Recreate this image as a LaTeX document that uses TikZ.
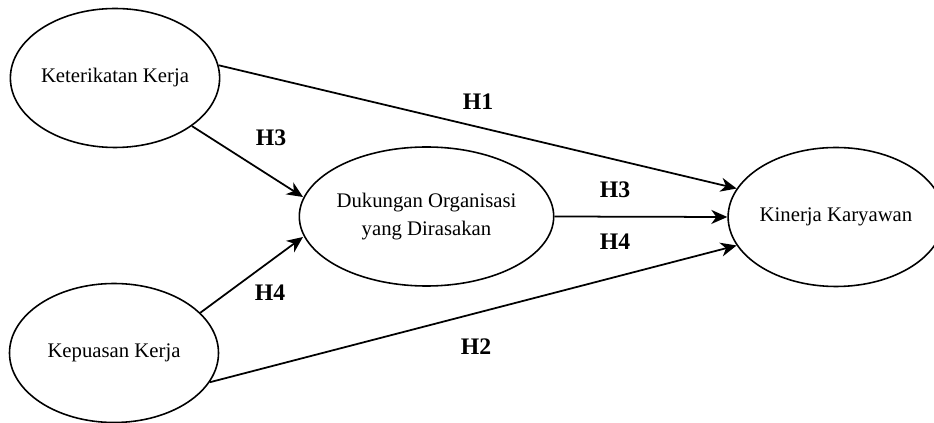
\documentclass[tikz,border=0pt]{standalone}
\usepackage{fontspec}
\setmainfont{Liberation Serif}
\usetikzlibrary{arrows.meta,shapes.geometric}
\begin{document}
\begin{tikzpicture}[
	var/.style={ellipse, draw, line width=0.9pt, inner sep=0pt, minimum width=4.18cm, minimum height=2.78cm, align=center, font=\fontsize{11.8}{15.9}\selectfont},
	hyp/.style={font=\fontsize{13.5}{15}\selectfont\bfseries},
	arr/.style={-{Stealth[length=3.2mm,width=2.8mm,inset=1mm]}, line width=1pt}]
			\useasboundingbox (0,0) rectangle (18.68,8.46);
			\node[var] (ket) at (2.30,6.90) {Keterikatan Kerja};
			\node[var] (kep) at (2.28,1.40) {Kepuasan Kerja};
			\node[var] (duk) at (8.53,4.13) {Dukungan Organisasi\\yang Dirasakan};
			\node[var, minimum width=3.94cm] (kin) at (16.72,4.12) {Kinerja Karyawan};
			\coordinate (p1) at (6.06,4.52);
			\coordinate (p2) at (6.06,3.72);
			\draw[arr] (ket.7)--(kin.164);
			\draw[arr] (ket.-32)--(p1);
			\draw[arr] (kep.25)--(p2);
			\draw[arr] (duk.east)--(kin.west);
			\draw[arr] (kep.-17)--(kin.196);
			\foreach \x/\y/\h in {9.56/6.42/H1, 5.42/5.70/H3, 5.40/2.60/H4, 12.30/4.66/H3, 12.30/3.62/H4, 9.52/1.52/H2}
			\node[hyp] (h-\x-\y) at (\x,\y) {\h};
		\end{tikzpicture}
\end{document}
